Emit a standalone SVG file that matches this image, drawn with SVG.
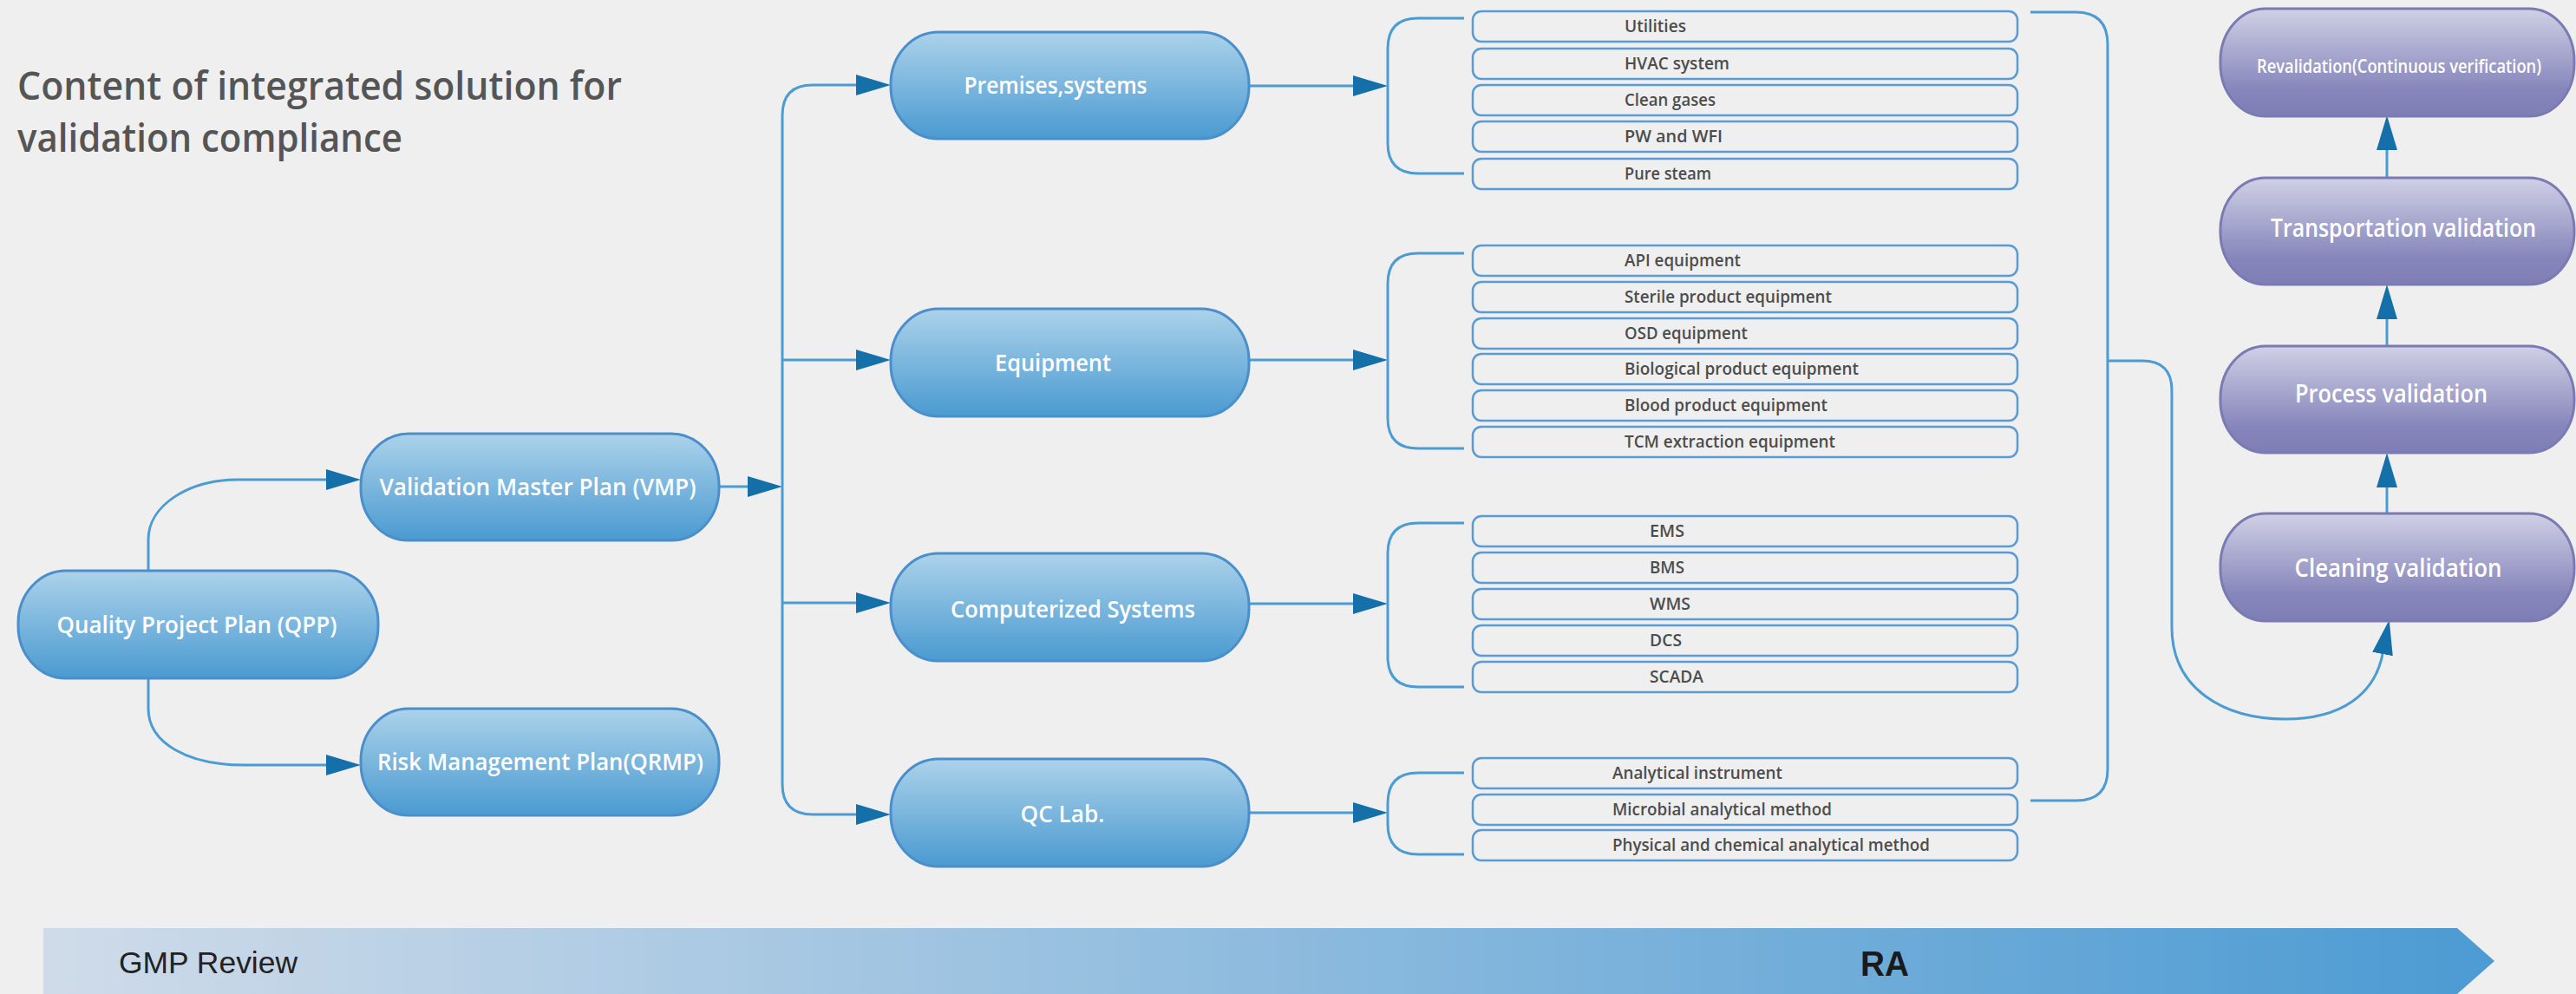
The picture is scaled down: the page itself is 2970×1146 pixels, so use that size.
<svg xmlns="http://www.w3.org/2000/svg" width="2970" height="1146" viewBox="0 0 2970 1146">
<defs>
<linearGradient id="gBlue" x1="0" y1="0" x2="0" y2="1">
<stop offset="0" stop-color="#acd2ea"/>
<stop offset="1" stop-color="#4a9ad1"/>
</linearGradient>
<linearGradient id="gPurple" x1="0" y1="0" x2="0" y2="1">
<stop offset="0" stop-color="#d0d0e6"/>
<stop offset="0.75" stop-color="#8686bc"/>
<stop offset="1" stop-color="#7e7eb6"/>
</linearGradient>
<linearGradient id="gBand" x1="50" y1="0" x2="2876" y2="0" gradientUnits="userSpaceOnUse">
<stop offset="0" stop-color="#cfdbe9"/>
<stop offset="1" stop-color="#4c9bd3"/>
</linearGradient>
<marker id="ah" markerUnits="userSpaceOnUse" markerWidth="40" markerHeight="24" refX="0" refY="12" orient="auto" viewBox="0 0 40 24">
<path d="M0,0 L40,12 L0,24 Z" fill="#1570aa"/>
</marker>
<style>
.bn{fill:url(#gBlue);stroke:#4a8fcb;stroke-width:3}
.pn{fill:url(#gPurple);stroke:#7b7bb3;stroke-width:3}
.it{fill:#efefef;stroke:#5b9bd5;stroke-width:2.5}
.lbl{font-family:"Open Sans","Noto Sans",sans-serif;font-weight:600;fill:#ffffff;text-anchor:middle}
.itx{font-family:"Open Sans","Noto Sans",sans-serif;font-weight:600;font-size:19px;fill:#4d4d4d}
.cn{fill:none;stroke:#4b9cd3;stroke-width:3}
.ar{marker-end:url(#ah)}
</style>
</defs>
<rect x="0" y="0" width="2970" height="1146" fill="#efefef"/>

<g id="title">
<text x="20" y="115" font-family="Open Sans, Noto Sans, sans-serif" font-weight="600" font-size="46" fill="#555555" textLength="697" lengthAdjust="spacingAndGlyphs">Content of integrated solution for</text>
<text x="20" y="175" font-family="Open Sans, Noto Sans, sans-serif" font-weight="600" font-size="46" fill="#555555" textLength="444" lengthAdjust="spacingAndGlyphs">validation compliance</text>
</g>

<g id="connectors">
<path class="cn ar" d="M171,658 V622 C171,583 217,553 274,553 H376"/>
<path class="cn ar" d="M171,782 V817 C171,857 217,882 281,882 H376"/>
<path class="cn ar" d="M829,561 H862"/>
<path class="cn" d="M902,133 V904"/>
<path class="cn ar" d="M902,133 Q902,98 937,98 H987"/>
<path class="cn ar" d="M902,904 Q902,939 937,939 H987"/>
<path class="cn ar" d="M902,415 H987"/>
<path class="cn ar" d="M902,695 H987"/>
<path class="cn ar" d="M1440,99 H1560"/>
<path class="cn ar" d="M1440,415 H1560"/>
<path class="cn ar" d="M1440,696 H1560"/>
<path class="cn ar" d="M1440,937 H1560"/>
<path class="cn" d="M1688,21 H1635 Q1600,21 1600,56 V165 Q1600,200 1635,200 H1688"/>
<path class="cn" d="M1688,292 H1635 Q1600,292 1600,327 V482 Q1600,517 1635,517 H1688"/>
<path class="cn" d="M1688,603 H1635 Q1600,603 1600,638 V757 Q1600,792 1635,792 H1688"/>
<path class="cn" d="M1688,891 H1635 Q1600,891 1600,926 V950 Q1600,985 1635,985 H1688"/>
<path class="cn" d="M2341,14 H2393 Q2430,14 2430,51 V887 Q2430,923 2394,923 H2341"/>
<path class="cn ar" d="M2430,416 H2470 Q2504,416 2504,450 V723 C2504,795 2565,829 2635,829 C2700,829 2738,800 2747,754"/>
<path class="cn ar" d="M2752,205 V173"/>
<path class="cn ar" d="M2752,399 V368"/>
<path class="cn ar" d="M2752,592 V562"/>
</g>

<g id="qpp"><rect class="bn" x="21" y="658" width="415" height="124" rx="55" ry="60"/><text class="lbl" x="227" y="730" font-size="27" textLength="323" lengthAdjust="spacingAndGlyphs">Quality Project Plan (QPP)</text></g>
<g id="vmp"><rect class="bn" x="416" y="500" width="413" height="123" rx="55" ry="60"/><text class="lbl" x="620" y="571" font-size="27" textLength="365" lengthAdjust="spacingAndGlyphs">Validation Master Plan (VMP)</text></g>
<g id="qrmp"><rect class="bn" x="416" y="817" width="413" height="123" rx="55" ry="60"/><text class="lbl" x="623" y="888" font-size="27" textLength="376" lengthAdjust="spacingAndGlyphs">Risk Management Plan(QRMP)</text></g>
<g id="premises"><rect class="bn" x="1027" y="37" width="413" height="123" rx="55" ry="60"/><text class="lbl" x="1217" y="108" font-size="27" textLength="211" lengthAdjust="spacingAndGlyphs">Premises,systems</text></g>
<g id="equipment"><rect class="bn" x="1027" y="356" width="413" height="124" rx="55" ry="60"/><text class="lbl" x="1214" y="428" font-size="27" textLength="134" lengthAdjust="spacingAndGlyphs">Equipment</text></g>
<g id="computerized"><rect class="bn" x="1027" y="638" width="413" height="124" rx="55" ry="60"/><text class="lbl" x="1237" y="712" font-size="27" textLength="282" lengthAdjust="spacingAndGlyphs">Computerized Systems</text></g>
<g id="qclab"><rect class="bn" x="1027" y="875" width="413" height="124" rx="55" ry="60"/><text class="lbl" x="1225" y="948" font-size="27" textLength="97" lengthAdjust="spacingAndGlyphs">QC Lab.</text></g>

<g id="item-utilities"><rect class="it" x="1698" y="13" width="628" height="35" rx="10"/><text class="itx" x="1873" y="37" textLength="71" lengthAdjust="spacingAndGlyphs">Utilities</text></g>
<g id="item-hvac"><rect class="it" x="1698" y="56" width="628" height="35" rx="10"/><text class="itx" x="1873" y="80" textLength="121" lengthAdjust="spacingAndGlyphs">HVAC system</text></g>
<g id="item-gases"><rect class="it" x="1698" y="98" width="628" height="35" rx="10"/><text class="itx" x="1873" y="122" textLength="105" lengthAdjust="spacingAndGlyphs">Clean gases</text></g>
<g id="item-pw"><rect class="it" x="1698" y="140" width="628" height="35" rx="10"/><text class="itx" x="1873" y="164" textLength="113" lengthAdjust="spacingAndGlyphs">PW and WFI</text></g>
<g id="item-steam"><rect class="it" x="1698" y="183" width="628" height="35" rx="10"/><text class="itx" x="1873" y="207" textLength="100" lengthAdjust="spacingAndGlyphs">Pure steam</text></g>

<g id="item-api"><rect class="it" x="1698" y="283" width="628" height="35" rx="10"/><text class="itx" x="1873" y="307" textLength="134" lengthAdjust="spacingAndGlyphs">API equipment</text></g>
<g id="item-sterile"><rect class="it" x="1698" y="325" width="628" height="35" rx="10"/><text class="itx" x="1873" y="349" textLength="239" lengthAdjust="spacingAndGlyphs">Sterile product equipment</text></g>
<g id="item-osd"><rect class="it" x="1698" y="367" width="628" height="35" rx="10"/><text class="itx" x="1873" y="391" textLength="142" lengthAdjust="spacingAndGlyphs">OSD equipment</text></g>
<g id="item-bio"><rect class="it" x="1698" y="408" width="628" height="35" rx="10"/><text class="itx" x="1873" y="432" textLength="270" lengthAdjust="spacingAndGlyphs">Biological product equipment</text></g>
<g id="item-blood"><rect class="it" x="1698" y="450" width="628" height="35" rx="10"/><text class="itx" x="1873" y="474" textLength="234" lengthAdjust="spacingAndGlyphs">Blood product equipment</text></g>
<g id="item-tcm"><rect class="it" x="1698" y="492" width="628" height="35" rx="10"/><text class="itx" x="1873" y="516" textLength="243" lengthAdjust="spacingAndGlyphs">TCM extraction equipment</text></g>

<g id="item-ems"><rect class="it" x="1698" y="595" width="628" height="35" rx="10"/><text class="itx" x="1902" y="619" textLength="40" lengthAdjust="spacingAndGlyphs">EMS</text></g>
<g id="item-bms"><rect class="it" x="1698" y="637" width="628" height="35" rx="10"/><text class="itx" x="1902" y="661" textLength="40" lengthAdjust="spacingAndGlyphs">BMS</text></g>
<g id="item-wms"><rect class="it" x="1698" y="679" width="628" height="35" rx="10"/><text class="itx" x="1902" y="703" textLength="47" lengthAdjust="spacingAndGlyphs">WMS</text></g>
<g id="item-dcs"><rect class="it" x="1698" y="721" width="628" height="35" rx="10"/><text class="itx" x="1902" y="745" textLength="37" lengthAdjust="spacingAndGlyphs">DCS</text></g>
<g id="item-scada"><rect class="it" x="1698" y="763" width="628" height="35" rx="10"/><text class="itx" x="1902" y="787" textLength="62" lengthAdjust="spacingAndGlyphs">SCADA</text></g>

<g id="item-instrument"><rect class="it" x="1698" y="874" width="628" height="35" rx="10"/><text class="itx" x="1859" y="898" textLength="196" lengthAdjust="spacingAndGlyphs">Analytical instrument</text></g>
<g id="item-microbial"><rect class="it" x="1698" y="916" width="628" height="35" rx="10"/><text class="itx" x="1859" y="940" textLength="253" lengthAdjust="spacingAndGlyphs">Microbial analytical method</text></g>
<g id="item-physical"><rect class="it" x="1698" y="957" width="628" height="35" rx="10"/><text class="itx" x="1859" y="981" textLength="366" lengthAdjust="spacingAndGlyphs">Physical and chemical analytical method</text></g>

<g id="revalidation"><rect class="pn" x="2560" y="10" width="408" height="124" rx="52" ry="60"/><text class="lbl" x="2766" y="84" font-size="21" textLength="328" lengthAdjust="spacingAndGlyphs">Revalidation(Continuous verification)</text></g>
<g id="transportation"><rect class="pn" x="2560" y="205" width="408" height="123" rx="52" ry="60"/><text class="lbl" x="2771" y="273" font-size="29" textLength="306" lengthAdjust="spacingAndGlyphs">Transportation validation</text></g>
<g id="process"><rect class="pn" x="2560" y="399" width="408" height="123" rx="52" ry="60"/><text class="lbl" x="2757" y="464" font-size="29" textLength="222" lengthAdjust="spacingAndGlyphs">Process validation</text></g>
<g id="cleaning"><rect class="pn" x="2560" y="592" width="408" height="124" rx="52" ry="60"/><text class="lbl" x="2765" y="665" font-size="29" textLength="239" lengthAdjust="spacingAndGlyphs">Cleaning validation</text></g>

<g id="band">
<path d="M50,1070 H2833 L2876,1108 L2833,1146 H50 Z" fill="url(#gBand)"/>
<text x="137" y="1122" font-family="Liberation Sans, Arial, sans-serif" font-size="35" fill="#222222" textLength="206" lengthAdjust="spacingAndGlyphs">GMP Review</text>
<text x="2145" y="1125" font-family="Liberation Sans, Arial, sans-serif" font-weight="bold" font-size="41" fill="#1a1a1a" textLength="56" lengthAdjust="spacingAndGlyphs">RA</text>
</g>
</svg>
